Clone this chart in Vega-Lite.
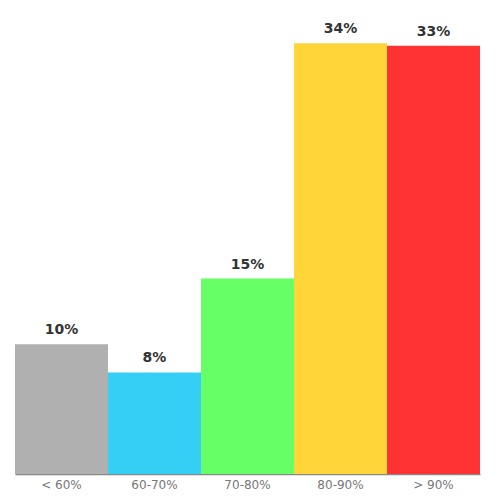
{
  "$schema": "https://vega.github.io/schema/vega-lite/v6.json",
  "width": 465,
  "height": 450,
  "padding": {"left": 15, "top": 22, "right": 20, "bottom": 5},
  "autosize": {"type": "pad"},
  "config": {
    "view": {"stroke": null},
    "font": "DejaVu Sans"
  },
  "data": {
    "values": [
      {"range": "< 60%", "pct": 10.1, "label": "10%", "color": "#b0b0b0"},
      {"range": "60-70%", "pct": 7.9, "label": "8%", "color": "#35cff6"},
      {"range": "70-80%", "pct": 15.2, "label": "15%", "color": "#66ff66"},
      {"range": "80-90%", "pct": 33.5, "label": "34%", "color": "#ffd53a"},
      {"range": "> 90%", "pct": 33.3, "label": "33%", "color": "#ff3333"}
    ]
  },
  "encoding": {
    "x": {
      "field": "range",
      "type": "nominal",
      "sort": null,
      "scale": {"paddingInner": 0, "paddingOuter": 0},
      "axis": {
        "title": null,
        "labelAngle": 0,
        "ticks": false,
        "labelPadding": 5,
        "labelFontSize": 12,
        "labelColor": "#777777",
        "domainColor": "#888888",
        "domainWidth": 1.5
      }
    },
    "y": {
      "field": "pct",
      "type": "quantitative",
      "scale": {"domain": [0, 35]},
      "axis": null
    }
  },
  "layer": [
    {
      "mark": {"type": "bar"},
      "encoding": {
        "color": {"field": "color", "type": "nominal", "scale": null}
      }
    },
    {
      "mark": {
        "type": "text",
        "baseline": "bottom",
        "dy": -7,
        "fontSize": 14,
        "fontWeight": "bold",
        "color": "#333333"
      },
      "encoding": {
        "text": {"field": "label"}
      }
    }
  ]
}
